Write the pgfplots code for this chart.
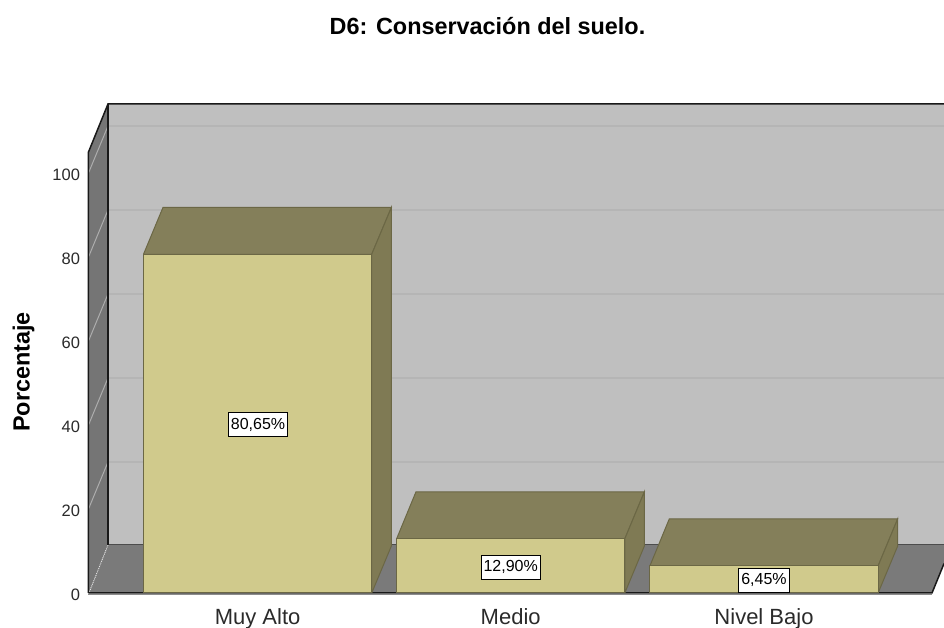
\documentclass[border=0pt]{standalone}
\usepackage{pgfplots}
\usepackage{fontspec}
\setmainfont{Liberation Sans}
\pgfplotsset{compat=1.18}
\definecolor{wall}{HTML}{BFBFBF}
\definecolor{gridb}{HTML}{B5B5B5}
\definecolor{gridw}{HTML}{ADADAD}
\definecolor{side}{HTML}{757575}
\definecolor{floorc}{HTML}{7A7A7A}
\definecolor{barf}{HTML}{D0CA8C}
\definecolor{bart}{HTML}{847F5A}
\definecolor{bars}{HTML}{7F7A54}
\definecolor{bare}{HTML}{6B6745}
\definecolor{txt}{HTML}{2A2A2A}
\begin{document}
\begin{tikzpicture}[x=1pt,y=1pt]
\begin{axis}[
  at={(0pt,0pt)}, anchor=origin,
  scale only axis, width=855.5pt, height=489pt,
  xmin=88.5, xmax=944, ymin=0, ymax=116.43,
  clip=false,
  axis line style={draw=none},
  major tick length=0pt,
  xtick={257.6,510.7,764},
  xticklabels={Muy Alto,Medio,Nivel Bajo},
  ytick={0,20,40,60,80,100},
  /pgf/number format/assume math mode=true,
  x tick label style={font=\fontsize{22}{24}\selectfont, text=txt, anchor=base, yshift=-32pt},
  y tick label style={font=\fontsize{16.5}{18}\selectfont, text=txt, anchor=east, xshift=-5pt, yshift=-1.5pt},
  title={\bfseries D6: Conservación del suelo.},
  title style={at={(axis cs:487.5,133.5)}, anchor=center, font=\fontsize{23.4}{26}\selectfont},
  ylabel={\bfseries Porcentaje},
  ylabel style={at={(axis cs:23.5,52.6)}, anchor=center, rotate=0, font=\fontsize{23.4}{26}\selectfont},
]
% back wall
\addplot[fill=wall, draw=none] coordinates {(108,11.43) (944,11.43) (944,116.43) (108,116.43) (108,11.43)};
% left wall
\addplot[fill=side, draw=none] coordinates {(88.5,0) (108,11.43) (108,116.43) (88.5,105) (88.5,0)};
% floor
\addplot[fill=floorc, draw=none] coordinates {(88.5,0) (932,0) (944,7) (944,11.43) (108,11.43) (88.5,0)};
% back wall grid
\addplot[gridb, line width=1.4pt] coordinates {(108,31.2) (944,31.2)};
\addplot[gridb, line width=1.4pt] coordinates {(108,51.2) (944,51.2)};
\addplot[gridb, line width=1.4pt] coordinates {(108,71.2) (944,71.2)};
\addplot[gridb, line width=1.4pt] coordinates {(108,91.2) (944,91.2)};
\addplot[gridb, line width=1.4pt] coordinates {(108,111.2) (944,111.2)};
% left wall grid
\addplot[gridw, line width=1pt] coordinates {(88.5,20) (108,31.2)};
\addplot[gridw, line width=1pt] coordinates {(88.5,40) (108,51.2)};
\addplot[gridw, line width=1pt] coordinates {(88.5,60) (108,71.2)};
\addplot[gridw, line width=1pt] coordinates {(88.5,80) (108,91.2)};
\addplot[gridw, line width=1pt] coordinates {(88.5,100) (108,111.2)};
% frame
\addplot[white!80!gray, densely dotted, line width=0.9pt] coordinates {(89.5,0.3) (108,11.43)};
\addplot[black!70, line width=1pt] coordinates {(108,11.43) (944,11.43)};
\addplot[black!90, line width=1.5pt] coordinates {(88.5,0) (88.5,105) (108,116.43) (944,116.43)};
\addplot[black!90, line width=1.5pt] coordinates {(108,116.43) (108,11.43)};
\addplot[black!90, line width=1.5pt] coordinates {(88.5,0) (932,0) (944,7)};
\addplot[black!45, line width=1pt] coordinates {(88.5,-0.35) (932,-0.35)};
% bar tops
\addplot[fill=bart, draw=bare, line width=1pt] coordinates {(143.5,80.65) (371.7,80.65) (391.4,91.8) (163,91.8) (143.5,80.65)};
\addplot[fill=bart, draw=bare, line width=1pt] coordinates {(396.6,12.90) (624.8,12.90) (644.4,24.1) (416,24.1) (396.6,12.90)};
\addplot[fill=bart, draw=bare, line width=1pt] coordinates {(649.9,6.45) (878.1,6.45) (897.7,17.65) (669.3,17.65) (649.9,6.45)};
% bar sides
\addplot[fill=bars, draw=bare, line width=1pt] coordinates {(371.7,0) (391.4,11.2) (391.4,91.8) (371.7,80.65) (371.7,0)};
\addplot[fill=bars, draw=bare, line width=1pt] coordinates {(624.8,0) (644.4,11.2) (644.4,24.1) (624.8,12.90) (624.8,0)};
\addplot[fill=bars, draw=bare, line width=1pt] coordinates {(878.1,0) (897.7,11.2) (897.7,17.65) (878.1,6.45) (878.1,0)};
% bar fronts
\addplot[ybar, bar width=228.2, fill=barf, draw=bare, line width=1pt] coordinates {(257.6,80.65) (510.7,12.90) (764,6.45)};
% labels
\addplot[draw=none, mark=none,
  nodes near coords,
  point meta=explicit symbolic,
  every node near coord/.style={anchor=center, fill=white, draw=black, line width=0.9pt, inner xsep=2.5pt, inner ysep=0pt, minimum height=24pt, text height=11.5pt, text depth=2.5pt, font=\fontsize{16}{18}\selectfont, text=black}
] coordinates {(258,40.05)[80,65\%] (510.7,6.2)[12,90\%] (764,3.0)[6,45\%]};
\end{axis}
\pgfresetboundingbox
\path[use as bounding box] (-88.5pt,-35pt) rectangle (855.5pt,593pt);
\end{tikzpicture}
\end{document}
